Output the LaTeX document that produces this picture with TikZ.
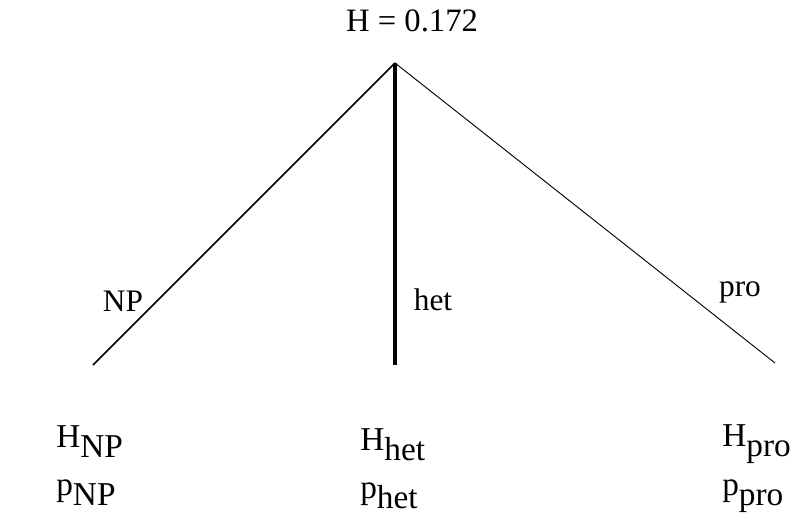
\documentclass[tikz,border=0pt]{standalone}
\usepackage{fontspec}
\setmainfont{Liberation Serif}
\usetikzlibrary{positioning}
\newcommand{\lowsub}[1]{\raisebox{-0.3em}{#1}}
\tikzset{
  treetext/.style={inner sep=0pt,font=\fontsize{23.5}{26}\selectfont},
  leaftext/.style={treetext,anchor=base west,font=\fontsize{25}{28}\selectfont},
  thinedge/.style={draw=black,line width=0.7pt},
  midedge/.style={draw=black,line width=1.1pt},
  thickedge/.style={draw=black,line width=2.3pt},
}
\begin{document}
\begin{tikzpicture}[x=0.75pt,y=-0.75pt]
  \useasboundingbox (0,0) rectangle (798,517);
  % root and the three branch ends
  \coordinate (root) at (395,63);
  \coordinate (npend) at (93,365);
  \coordinate (hetend) at (395,365);
  \coordinate (proend) at (775,363);
  \node[treetext,anchor=base,font=\fontsize{24.5}{28}\selectfont] (title) at (412,32) {H = 0.172};
  \draw[midedge] (root) -- (npend);
  \draw[thickedge] (root) -- (hetend);
  \draw[thinedge] (root) -- (proend);
  % branch labels
  \node[treetext] (nplab) at (123,301) {NP};
  \node[treetext] (hetlab) at (433,300) {het};
  \node[treetext] (prolab) at (740,292) {pro};
  % entropies and probabilities
  \node[leaftext] (hnp) at (56,447) {H\lowsub{NP}};
  \node[leaftext] (pnp) at (56,495) {p\lowsub{NP}};
  \node[leaftext] (hhet) at (360,450) {H\lowsub{het}};
  \node[leaftext] (phet) at (360,498) {p\lowsub{het}};
  \node[leaftext] (hpro) at (722,446) {H\lowsub{pro}};
  \node[leaftext] (ppro) at (722,495) {p\lowsub{pro}};
\end{tikzpicture}
\end{document}
